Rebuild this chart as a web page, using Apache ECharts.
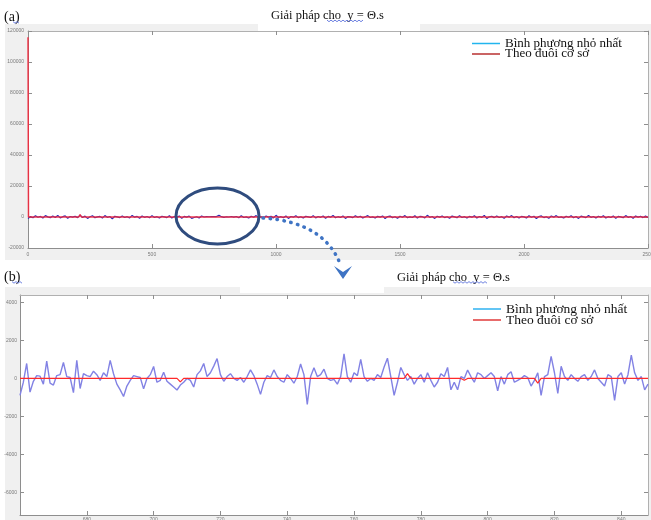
<!DOCTYPE html>
<html>
<head>
<meta charset="utf-8">
<script src="https://cdn.jsdelivr.net/npm/echarts@6/dist/echarts.min.js"></script>
<style>
  html, body { margin: 0; padding: 0; background: #ffffff; }
  #chart { width: 651px; height: 520px; }
</style>
</head>
<body>
<div id="chart"></div>
<script>
// Series names shared by both panels
const seriesNames = ['Bình phương nhỏ nhất', 'Theo đuôi cơ sở'];
const titleText = 'Giải pháp cho  y = Θ.s';
const panelLabels = ['(a)', '(b)'];

// Panel (a): whole signal, least-squares solution sampled every 10 samples
const overviewStep = 10;
const overviewLsq = [
  -900, 300, -500, 800, -200, 400, -700, 900, 100, -400,
  600, -300, 1000, -600, 200, 700, -800, 300, -100, 500,
  -400, 1200, -300, 600, -900, 200, 800, -500, 100, 400,
  -700, 900, -200, 300, -1100, 500, 100, -400, 700, -300,
  200, -600, 1000, -100, 400, -800, 600, -200, 300, -500,
  900, -300, 200, -700, 500, 100, -400, 800, -600, 300,
  -200, 700, -900, 400, -100, 600, -890, -350, 150, -600,
  630, 0, 200, 150, 200, 200, 300, 1070, 200, -200,
  150, 0, 300, -100, 300, -500, 800, -300, 100, -700,
  500, -200, 900, -400, 200, -800, 600, -100, 400, -600,
  1100, -300, 200, -500, 700, -900, 300, -100, 800, -400,
  200, -700, 500, 100, -300, 900, -600, 300, -200, 600,
  -800, 400, -100, 1000, -500, 200, -300, 700, -900, 300,
  100, -400, 800, -200, 500, -700, 200, 900, -300, 100,
  -600, 400, -100, 700, -1000, 300, 600, -400, 200, -800,
  500, -200, 900, -500, 100, -300, 800, -700, 400, 200,
  -600, 1100, -200, 300, -900, 500, -100, 700, -400, 200,
  -800, 600, 100, -500, 900, -300, 200, -700, 400, -100,
  800, -600, 300, -200, 1000, -900, 100, 500, -400, 700,
  -300, 200, -800, 600, -100, 900, -500, 300, -700, 400,
  100, -600, 800, -200, 500, -1000, 300, 700, -400, 200,
  -800, 600, -100, 900, -300, 100, -700, 500, -200, 800,
  -500, 300, -900, 600, 100, -400, 1000, -200, 300, -700,
  500, -100, 800, -600, 200, -300, 700, -900, 400, 100,
  -500, 900, -200, 300, -800, 600, -100, 500, -400, 700,
  -300
];
// Panel (a): basis-pursuit solution as [sample, value] breakpoints
const overviewBasis = [
  [0, 116000], [2, 0], [205, 0], [210, 1500], [215, 0], [640, 0], [645, -600], [650, 0],
  [1180, 0], [1185, 700], [1190, 0], [1720, 0], [1725, -800], [1730, 0], [2500, 0]
];

// Panel (b): samples 660..848, least-squares solution
const zoomStart = 660;
const zoomLsq = [
  -890, -200, 790, -720, -150, 150, 120, -300, 910, -250,
  -350, 150, 200, 840, 100, 50, -750, 950, -530, 250,
  150, 100, 380, 200, -100, 300, 100, 950, 250, -300,
  -600, -950, -400, -100, 150, 100, 50, -550, 0, 200,
  630, -200, -100, 330, -150, -300, -450, -610, -350, -200,
  0, -100, -450, 200, 400, 790, 100, 300, 650, 1050,
  200, -150, 100, 250, 0, -100, 50, -200, 100, 450,
  150, -300, -840, -200, 150, 50, 450, 100, -100, -200,
  200, 0, -250, 100, 760, 200, -1370, 100, 570, 100,
  200, 490, 0, -100, -50, -300, 100, 1300, 100, -200,
  300, 150, 1000, 100, -150, 0, -100, 200, 50, 600,
  1070, 100, -890, -200, 580, 200, -100, 100, -300, 0,
  200, -200, 300, -100, -450, -200, 250, 100, 580, -600,
  -200, -600, 100, 0, 440, 100, -200, 300, 200, 0,
  150, 300, 100, -650, 100, -300, 200, 350, -200, -100,
  0, 150, 50, -400, -100, 300, -890, 100, 200, 1160,
  300, -790, 640, 100, -100, 200, 0, -150, 100, 200,
  -100, 100, 450, 0, -200, -400, 200, 100, -1160, 100,
  300, -300, 200, 1230, 300, -100, 100, -600, -300
];
// Panel (b): basis-pursuit solution as [sample, value] breakpoints
const zoomBasis = [
  [660, 0], [707, 0], [708, -180], [709, 0], [775, 0], [776, 250], [777, 0],
  [792, 0], [793, -100], [794, 0], [814, 0], [815, -250], [816, 0], [848, 0]
];

// Tick labels
const overviewXTicks = [0, 500, 1000, 1500, 2000, 2500];
const overviewYTicks = [-20000, 0, 20000, 40000, 60000, 80000, 100000, 120000];
const zoomXTicks = [680, 700, 720, 740, 760, 780, 800, 820, 840];
const zoomYTicks = [-6000, -4000, -2000, 0, 2000, 4000];

const chart = echarts.init(document.getElementById('chart'), null, { renderer: 'canvas' });

const serif = '"Liberation Serif", "DejaVu Serif", serif';
const tickFont = {
  fontFamily: 'Arial, "Liberation Sans", sans-serif', fontSize: 5, color: '#7a7a7a',
  formatter: (v) => String(v)
};
const frameMain = { show: true, onZero: false, lineStyle: { color: '#8e8e8e', width: 1 } };
const frameSide = { show: true, onZero: false, lineStyle: { color: '#b0b0b0', width: 1 } };
const innerTick = { show: true, inside: true, length: 4, lineStyle: { color: '#8e8e8e', width: 1 } };

function valueAxis(extra) {
  return Object.assign({
    type: 'value',
    splitLine: { show: false },
    axisTick: innerTick,
    axisLine: frameMain
  }, extra);
}

// small blue spell-check squiggle under a word
function squiggle(x0, x1, y) {
  const pts = [];
  for (let x = x0, k = 0; x <= x1; x += 2, k++) pts.push([x, y + (k % 2 ? 1.2 : -0.4)]);
  return {
    type: 'polyline', z: 50, silent: true,
    shape: { points: pts },
    style: { stroke: '#4a62d8', lineWidth: 0.8, fill: null }
  };
}

function legendItem(name, color) {
  return { name: name, icon: 'rect', itemStyle: { color: color, borderWidth: 0 } };
}

const option = {
  animation: false,
  backgroundColor: '#ffffff',
  title: [
    { text: panelLabels[0], left: 4, top: 10, padding: 0,
      textStyle: { fontFamily: serif, fontSize: 14, fontWeight: 'normal', color: '#111' } },
    { text: titleText, left: 271, top: 9, padding: 0,
      textStyle: { fontFamily: serif, fontSize: 12.5, fontWeight: 'normal', color: '#111' } },
    { text: panelLabels[1], left: 4, top: 270, padding: 0,
      textStyle: { fontFamily: serif, fontSize: 14, fontWeight: 'normal', color: '#111' } },
    { text: titleText, left: 397, top: 271, padding: 0,
      textStyle: { fontFamily: serif, fontSize: 12.5, fontWeight: 'normal', color: '#111' } }
  ],
  legend: [
    {
      left: 472, top: 37, orient: 'vertical', padding: 0,
      itemWidth: 28, itemHeight: 1.5, itemGap: -2.5,
      textStyle: { fontFamily: serif, fontSize: 13, color: '#111', lineHeight: 10 },
      data: [legendItem(seriesNames[0], '#22b5ee'), legendItem(seriesNames[1], '#b83030')]
    },
    {
      left: 473, top: 302, orient: 'vertical', padding: 0,
      itemWidth: 28, itemHeight: 1.5, itemGap: -3,
      textStyle: { fontFamily: serif, fontSize: 13.5, color: '#111', lineHeight: 10 },
      data: [legendItem(seriesNames[0], '#2fb2f0'), legendItem(seriesNames[1], '#e03a3a')]
    }
  ],
  grid: [
    { left: 28, right: 3, top: 31, height: 217, show: true, backgroundColor: '#ffffff', borderWidth: 0,
      containLabel: false, outerBoundsMode: 'none' },
    { left: 20, right: 3, top: 295, height: 220, show: true, backgroundColor: '#ffffff', borderWidth: 0,
      containLabel: false, outerBoundsMode: 'none' }
  ],
  xAxis: [
    valueAxis({ gridIndex: 0, position: 'bottom', min: 0, max: 2500, interval: 500,
      axisLabel: Object.assign({ margin: 4, customValues: overviewXTicks }, tickFont),
      axisTick: Object.assign({}, innerTick, { customValues: overviewXTicks }) }),
    valueAxis({ gridIndex: 0, position: 'top', min: 0, max: 2500, interval: 500,
      axisLabel: { show: false }, axisLine: frameSide }),
    valueAxis({ gridIndex: 1, position: 'bottom', min: 660, max: 848,
      axisLabel: Object.assign({ margin: 2, customValues: zoomXTicks }, tickFont),
      axisTick: Object.assign({}, innerTick, { customValues: zoomXTicks }) }),
    valueAxis({ gridIndex: 1, position: 'top', min: 660, max: 848,
      axisLabel: { show: false }, axisLine: frameSide,
      axisTick: Object.assign({}, innerTick, { customValues: zoomXTicks }) })
  ],
  yAxis: [
    valueAxis({ gridIndex: 0, position: 'left', min: -20000, max: 120000, interval: 20000,
      axisLabel: Object.assign({ margin: 4, customValues: overviewYTicks }, tickFont) }),
    valueAxis({ gridIndex: 0, position: 'right', min: -20000, max: 120000, interval: 20000,
      axisLabel: { show: false }, axisLine: frameSide }),
    valueAxis({ gridIndex: 1, position: 'left', min: -7200, max: 4400,
      axisLabel: Object.assign({ margin: 3, customValues: zoomYTicks }, tickFont),
      axisTick: Object.assign({}, innerTick, { customValues: zoomYTicks }) }),
    valueAxis({ gridIndex: 1, position: 'right', min: -7200, max: 4400,
      axisLabel: { show: false }, axisLine: frameSide,
      axisTick: Object.assign({}, innerTick, { customValues: zoomYTicks }) })
  ],
  series: [
    {
      name: seriesNames[0], type: 'line', xAxisIndex: 0, yAxisIndex: 0,
      data: overviewLsq.map((v, i) => [i * overviewStep, v]),
      symbol: 'none', color: '#2a2ab8',
      lineStyle: { color: '#2a2ab8', width: 1.2 }, z: 2
    },
    {
      name: seriesNames[1], type: 'line', xAxisIndex: 0, yAxisIndex: 0,
      data: overviewBasis,
      symbol: 'none', color: '#f0283c',
      lineStyle: { color: '#f0283c', width: 1.5, opacity: 0.9 }, z: 3
    },
    {
      name: seriesNames[0], type: 'line', xAxisIndex: 2, yAxisIndex: 2,
      data: zoomLsq.map((v, i) => [zoomStart + i, v]),
      symbol: 'none', color: '#8282e4',
      lineStyle: { color: '#8282e4', width: 1.4 }, z: 2
    },
    {
      name: seriesNames[1], type: 'line', xAxisIndex: 2, yAxisIndex: 2,
      data: zoomBasis,
      symbol: 'none', color: '#ff2a2a',
      lineStyle: { color: '#ff2a2a', width: 1.2 }, z: 3
    }
  ],
  graphic: [
    // figure backgrounds
    { type: 'rect', z: -100, silent: true, shape: { x: 5, y: 24, width: 646, height: 236 }, style: { fill: '#f0f0f0' } },
    { type: 'rect', z: -99, silent: true, shape: { x: 258, y: 24, width: 162, height: 7 }, style: { fill: '#ffffff' } },
    { type: 'rect', z: -100, silent: true, shape: { x: 5, y: 287, width: 646, height: 233 }, style: { fill: '#f0f0f0' } },
    { type: 'rect', z: -99, silent: true, shape: { x: 240, y: 287, width: 144, height: 6 }, style: { fill: '#ffffff' } },
    // highlight ellipse around the zoomed region
    { type: 'ellipse', z: 60, silent: true, shape: { cx: 217.5, cy: 216, rx: 41.5, ry: 28 },
      style: { fill: null, stroke: '#2f4c7e', lineWidth: 3 } },
    // dotted connector to panel (b)
    { type: 'bezierCurve', z: 60, silent: true,
      shape: { x1: 263, y1: 218, cpx1: 325, cpy1: 222, x2: 341, y2: 266 },
      style: { fill: null, stroke: '#3f74c4', lineWidth: 3.5, lineDash: [0.5, 6.5], lineCap: 'round' } },
    { type: 'polygon', z: 60, silent: true,
      shape: { points: [[334, 266], [343, 272], [352, 266], [343, 279]] },
      style: { fill: '#3f74c4' } },
    squiggle(13, 19, 22),
    squiggle(327, 363, 20.5),
    squiggle(12, 22, 282),
    squiggle(453, 487, 282)
  ]
};

chart.setOption(option);
</script>
</body>
</html>
